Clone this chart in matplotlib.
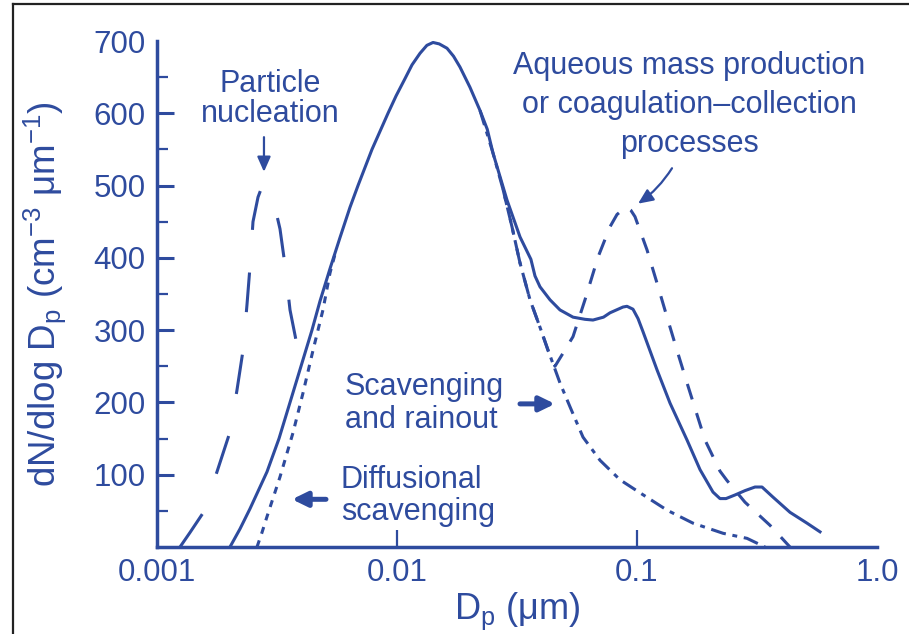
import matplotlib
matplotlib.use("Agg")
import matplotlib.pyplot as plt
from matplotlib.lines import Line2D

# size distribution curves, D_p in um, dN/dlog D_p in cm^-3 um^-1
main_dp = [0.002014, 0.002217, 0.002441, 0.002661, 0.002873, 0.003224, 0.003583, 0.003981,
           0.004423, 0.004776, 0.005258, 0.005787, 0.006371, 0.006879, 0.007866, 0.009173,
           0.009910, 0.01080, 0.01155, 0.01247, 0.01332, 0.01413, 0.01500, 0.01616, 0.01720,
           0.01830, 0.02014, 0.02217, 0.02377, 0.02512, 0.02873, 0.03255, 0.03614, 0.03758,
           0.03943, 0.04340, 0.04776, 0.05412, 0.06072, 0.06556, 0.07253, 0.07718, 0.08743,
           0.09085, 0.09623, 0.1010, 0.1059, 0.1212, 0.1373, 0.1616, 0.1831, 0.2073, 0.2217,
           0.2349, 0.2561, 0.2818, 0.3102, 0.3318, 0.3687, 0.4340, 0.5109, 0.5788]
main_n = [0, 25, 53, 80, 104, 150, 200, 250,
          300, 340, 385, 428, 470, 500, 550, 600,
          624, 648, 667, 683, 694, 698, 696, 690, 679,
          664, 636, 604, 578, 545, 480, 429, 398, 375,
          360, 342, 328, 318, 315, 314, 318, 324, 332,
          333, 329, 316, 298, 245, 199, 148, 107, 76, 67,
          67, 72, 78, 83, 83, 69, 48, 33, 21]

nucl_dp = [0.001247, 0.001372, 0.001555, 0.001778, 0.002014, 0.002154, 0.002283, 0.002371,
           0.002441, 0.002512, 0.002636, 0.002720, 0.002818, 0.002890, 0.002957, 0.003102,
           0.003255, 0.003415, 0.003583, 0.003870]
nucl_n = [0, 20, 47, 104, 159, 217, 272, 335,
          388, 450, 484, 496, 500, 497, 490, 470,
          440, 390, 328, 272]

diff_dp = [0.002610, 0.002738, 0.002873, 0.003255, 0.003687, 0.004058, 0.004467, 0.004915,
           0.005258, 0.005569]
diff_n = [0, 20, 42, 97, 158, 213, 272, 328, 379, 410]

scav_dp = [0.02217, 0.02512, 0.02765, 0.03014, 0.03255, 0.03583, 0.03943, 0.04340, 0.04776,
           0.05258, 0.05957, 0.07012, 0.08496, 0.1029, 0.1334, 0.1711, 0.2283, 0.2873, 0.3415]
scav_n = [604, 545, 495, 443, 393, 342, 304, 265, 227,
          194, 152, 120, 93, 75, 51, 33, 19, 12, 0]

aq_dp = [0.02765, 0.03014, 0.03255, 0.03583, 0.03943, 0.04257, 0.04552, 0.04915, 0.05412,
         0.06072, 0.06879, 0.07718, 0.08254, 0.08743, 0.09085, 0.09420, 0.09809, 0.1101,
         0.1212, 0.1334, 0.1468, 0.1616, 0.1920, 0.2217, 0.2371, 0.2818, 0.3583, 0.4340]
aq_n = [495, 443, 393, 342, 304, 272, 250, 268, 291,
        342, 401, 443, 460, 467, 470, 466, 457, 411,
        365, 318, 272, 227, 148, 105, 92, 62, 30, 0]

x_ticks = [0.001, 0.01, 0.1, 1.0]
x_ticklabels = ["0.001", "0.01", "0.1", "1.0"]
y_ticks = [100, 200, 300, 400, 500, 600, 700]
y_minor = [50, 150, 250, 350, 450, 550, 650]

BLUE = "#2E4B9E"
plt.rcParams["font.family"] = ["Liberation Sans", "DejaVu Sans"]
plt.rcParams["mathtext.default"] = "regular"

fig = plt.figure(figsize=(9.09, 6.34), dpi=100)
ax = fig.add_axes([0.1727, 0.1372, 0.7921, 0.7981])

lw = 2.2
ax.plot(main_dp, main_n, color=BLUE, lw=lw, clip_on=False, solid_joinstyle="round")
ax.plot(nucl_dp, nucl_n, color=BLUE, lw=lw, ls=(0, (13, 14)), clip_on=False)
ax.plot(diff_dp, diff_n, color=BLUE, lw=lw, ls=(0, (2.3, 2.3)), clip_on=False)
ax.plot(scav_dp, scav_n, color=BLUE, lw=lw, ls=(0, (5, 2.2, 1.6, 2.2)), clip_on=False)
ax.plot(aq_dp, aq_n, color=BLUE, lw=lw, ls=(0, (5.3, 4.7)), clip_on=False)

ax.set_xscale("log")
ax.set_xlim(0.001, 1.0)
ax.set_ylim(0, 700)
ax.xaxis.set_minor_locator(matplotlib.ticker.NullLocator())
ax.set_xticks(x_ticks, x_ticklabels)
ax.set_yticks(y_ticks)
ax.set_yticks(y_minor, minor=True)

for side in ("top", "right"):
    ax.spines[side].set_visible(False)
for side in ("left", "bottom"):
    ax.spines[side].set_color(BLUE)
    ax.spines[side].set_linewidth(2.5)

ax.tick_params(axis="y", which="major", direction="in", length=12, width=2.2,
               color=BLUE, labelcolor=BLUE, labelsize=22.5, pad=8)
ax.tick_params(axis="y", which="minor", direction="in", length=8, width=1.6, color=BLUE)
ax.tick_params(axis="x", which="major", direction="in", length=12, width=1.6,
               color=BLUE, labelcolor=BLUE, labelsize=22.5, pad=8)
ax.yaxis.get_major_ticks()[-1].tick1line.set_visible(False)
xt = ax.xaxis.get_major_ticks()
xt[0].tick1line.set_visible(False)
xt[-1].tick1line.set_visible(False)

ax.set_ylabel("dN/dlog D$_p$ (cm$^{−3}$ μm$^{−1}$)", color=BLUE, fontsize=26.5, va="center")
ax.yaxis.set_label_coords(-0.1556, 0.5)
ax.set_xlabel("D$_p$ (μm)", color=BLUE, fontsize=26, va="center")
ax.xaxis.set_label_coords(0.5, -0.128)

# annotations (y = baseline of the last line)
tkw = dict(color=BLUE, fontsize=22, va="baseline")
ax.text(0.002957, 588, "Particle\nnucleation", ha="center", linespacing=1.0, **tkw)
ax.text(0.1647, 547, "Aqueous mass production\nor coagulation–collection\nprocesses",
        ha="center", linespacing=1.39, **tkw)
ax.text(0.006072, 165, "Scavenging\nand rainout", ha="left", linespacing=1.1, **tkw)
ax.text(0.005843, 37, "Diffusional\nscavenging", ha="left", linespacing=1.1, **tkw)

thin = dict(arrowstyle="-|>,head_length=0.45,head_width=0.2", color=BLUE, lw=1.6,
            shrinkA=0, shrinkB=0, mutation_scale=20)
thick = dict(arrowstyle="-|>,head_length=0.45,head_width=0.22", color=BLUE, lw=3.6,
             shrinkA=0, shrinkB=0, mutation_scale=20)
ax.annotate("", xy=(0.002791, 519), xytext=(0.002791, 567), arrowprops=thin)
ax.annotate("", xy=(0.1010, 475), xytext=(0.1399, 524),
            arrowprops=dict(thin, connectionstyle="arc3,rad=-0.1"))
ax.annotate("", xy=(0.04552, 198), xytext=(0.03255, 198), arrowprops=thick)
ax.annotate("", xy=(0.003652, 66), xytext=(0.005060, 66), arrowprops=thick)

# picture frame, only top and left edges show
fig.add_artist(Line2D([0.0143, 1.0], [0.9937, 0.9937], color="#222222", lw=1.6,
                      transform=fig.transFigure))
fig.add_artist(Line2D([0.0143, 0.0143], [0.0, 0.9937], color="#222222", lw=1.6,
                      transform=fig.transFigure))

fig.savefig("out.png", dpi=100)
